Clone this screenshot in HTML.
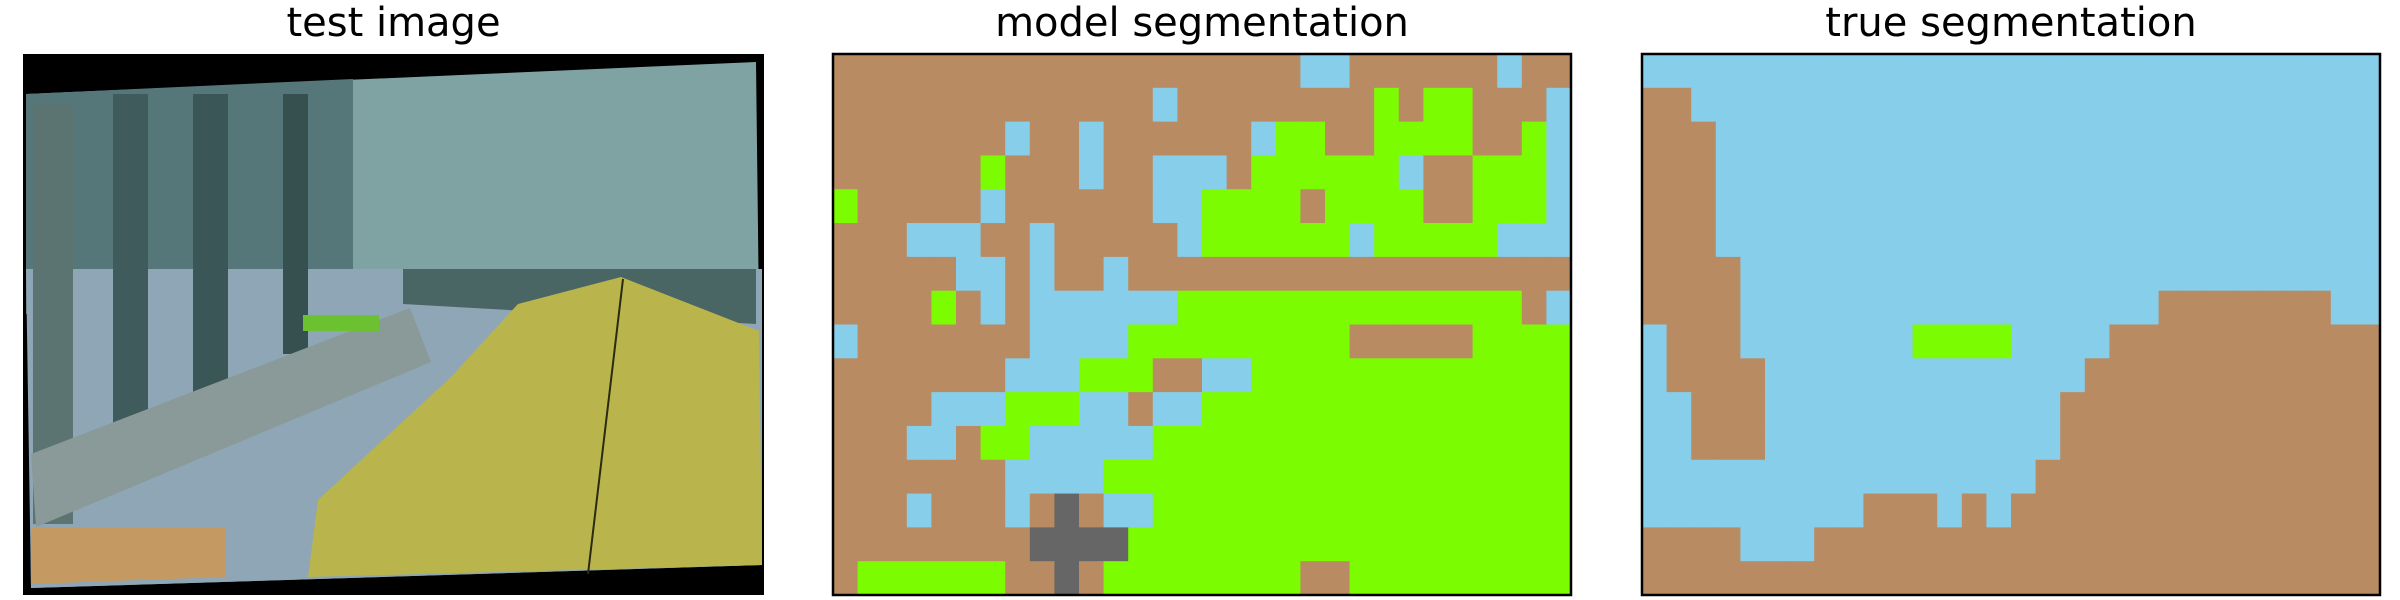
<!DOCTYPE html>
<html><head><meta charset="utf-8">
<style>
html,body{margin:0;padding:0;background:#fff;}
body{width:2400px;height:600px;overflow:hidden;position:relative;font-family:"DejaVu Sans","Liberation Sans",sans-serif;}
.title{position:absolute;top:0;height:50px;line-height:46px;text-align:center;font-size:40px;color:#000;}
svg{position:absolute;top:0;left:0;}
</style></head>
<body>
<div class="title" style="left:23px;width:741px;">test image</div>
<div class="title" style="left:833px;width:738px;">model segmentation</div>
<div class="title" style="left:1642px;width:738px;">true segmentation</div>
<svg id="chart" width="2400" height="600" xmlns="http://www.w3.org/2000/svg">
  <g transform="translate(23,54)">
    <rect width="741" height="541" fill="#000"/>
    <polygon points="3,40 733,8 739,511 8,534" fill="#7fa3a3"/>
    <polygon points="3,40 330,25 330,240 3,260" fill="#56777a"/>
    <polygon points="3,215 739,215 739,511 8,534" fill="#8ea6b6"/>
    <polygon points="380,215 733,215 733,270 380,250" fill="#4a6664"/>
    <rect x="10" y="50" width="40" height="420" fill="#5b7472"/>
    <rect x="90" y="40" width="35" height="380" fill="#3f5b5b"/>
    <rect x="170" y="40" width="35" height="340" fill="#3b5656"/>
    <rect x="260" y="40" width="25" height="260" fill="#36504f"/>
    <polygon points="495,250 598,223 736,277 739,511 285,523 295,446 428,323" fill="#b9b54c"/>
    <polygon points="8,400 387,254 408,308 13,473" fill="#8a9a98"/>
    <polygon points="8,473 203,473 203,523 8,530" fill="#c49a62"/>
    <polygon points="280,261 356,261 356,277 280,277" fill="#6bc12f"/>
    <line x1="600" y1="225" x2="565" y2="520" stroke="#2a2a10" stroke-width="2"/>
  </g>
  <g id="model"></g>
  <g id="truth"></g>
</svg>
<script>
const modelRows = [
"BBBBBBBBBBBBBBBBBBBSSBBBBBBSBB",
"BBBBBBBBBBBBBSBBBBBBBBGBGGBBBS",
"BBBBBBBSBBSBBBBBBSGGBBGGGGBBGS",
"BBBBBBGBBBSBBSSSBGGGGGGSBBGGGS",
"GBBBBBSBBBBBBSSGGGGBGGGGBBGGGS",
"BBBSSSBBSBBBBBSGGGGGGSGGGGGSSS",
"BBBBBSSBSBBSBBBBBBBBBBBBBBBBBB",
"BBBBGBSBSSSSSSGGGGGGGGGGGGGGBS",
"SBBBBBBBSSSSGGGGGGGGGBBBBBGGGG",
"BBBBBBBSSSGGGBBSSGGGGGGGGGGGGG",
"BBBBSSSGGGSSBSSGGGGGGGGGGGGGGG",
"BBBSSBGGSSSSSGGGGGGGGGGGGGGGGG",
"BBBBBBBSSSSGGGGGGGGGGGGGGGGGGG",
"BBBSBBBSBDBSSGGGGGGGGGGGGGGGGG",
"BBBBBBBBDDDDGGGGGGGGGGGGGGGGGG",
"BGGGGGGBBDBGGGGGGGGBBGGGGGGGGG"
];
const trueRows = [
"SSSSSSSSSSSSSSSSSSSSSSSSSSSSSS",
"BBSSSSSSSSSSSSSSSSSSSSSSSSSSSS",
"BBBSSSSSSSSSSSSSSSSSSSSSSSSSSS",
"BBBSSSSSSSSSSSSSSSSSSSSSSSSSSS",
"BBBSSSSSSSSSSSSSSSSSSSSSSSSSSS",
"BBBSSSSSSSSSSSSSSSSSSSSSSSSSSS",
"BBBBSSSSSSSSSSSSSSSSSSSSSSSSSS",
"BBBBSSSSSSSSSSSSSSSSSBBBBBBBSS",
"SBBBSSSSSSSGGGGSSSSBBBBBBBBBBB",
"SBBBBSSSSSSSSSSSSSBBBBBBBBBBBB",
"SSBBBSSSSSSSSSSSSBBBBBBBBBBBBB",
"SSBBBSSSSSSSSSSSSBBBBBBBBBBBBB",
"SSSSSSSSSSSSSSSSBBBBBBBBBBBBBB",
"SSSSSSSSSBBBSBSBBBBBBBBBBBBBBB",
"BBBBSSSBBBBBBBBBBBBBBBBBBBBBBB",
"BBBBBBBBBBBBBBBBBBBBBBBBBBBBBB"
];
const classNames = {B:"floor",S:"wall",G:"object",D:"other"};
const classColors = {B:"#b98b63",S:"#87ceeb",G:"#7cfc00",D:"#666666"};
const NS="http://www.w3.org/2000/svg";
function drawGrid(gid, rows, x0, y0, w, h, prefix){
  const g=document.getElementById(gid);
  const nr=rows.length, nc=rows[0].length;
  const cw=w/nc, ch=h/nr;
  for(let r=0;r<nr;r++){
    for(let c=0;c<nc;c++){
      const k=rows[r][c];
      const rect=document.createElementNS(NS,"rect");
      rect.setAttribute("x",(x0+c*cw).toFixed(2));
      rect.setAttribute("y",(y0+r*ch).toFixed(2));
      rect.setAttribute("width",(cw+0.6).toFixed(2));
      rect.setAttribute("height",(ch+0.6).toFixed(2));
      rect.setAttribute("fill",classColors[k]);
      
      
      g.appendChild(rect);
    }
  }
  const frame=document.createElementNS(NS,"rect");
  frame.setAttribute("x",x0);frame.setAttribute("y",y0);
  frame.setAttribute("width",w);frame.setAttribute("height",h);
  frame.setAttribute("fill","none");frame.setAttribute("stroke","#000");frame.setAttribute("stroke-width","2.5");
  
  
  g.appendChild(frame);
}
drawGrid("model", modelRows, 833, 54, 738, 541, "model");
drawGrid("truth", trueRows, 1642, 54, 738, 541, "truth");
</script>
</body></html>
